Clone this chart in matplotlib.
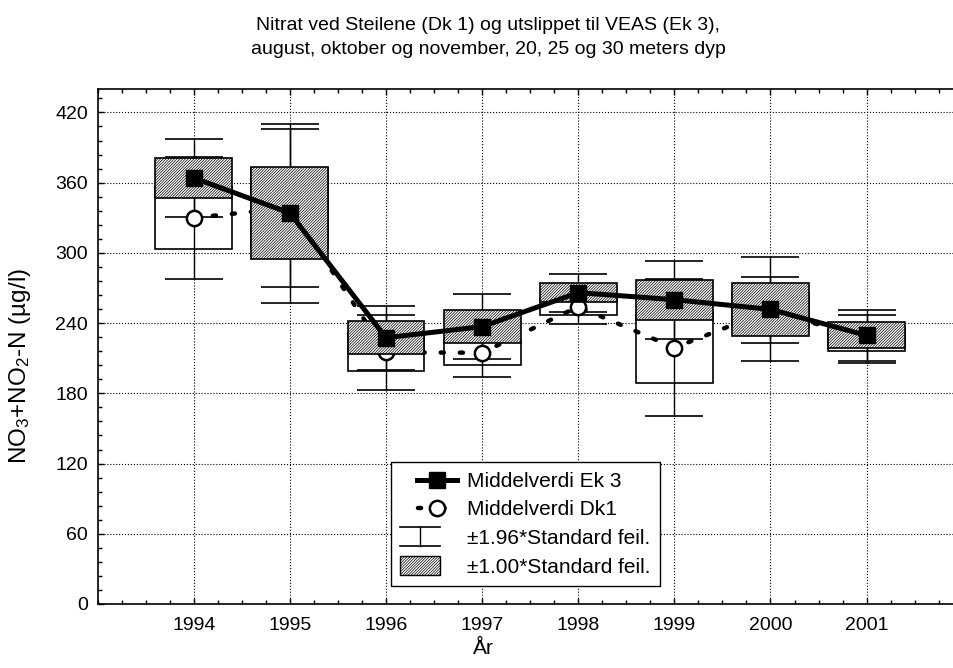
import matplotlib
matplotlib.use('Agg')
import matplotlib.pyplot as plt
from matplotlib.ticker import MultipleLocator
from matplotlib.legend_handler import HandlerBase
from matplotlib.lines import Line2D
from matplotlib.patches import Rectangle

plt.rcParams['font.family'] = ['Liberation Sans', 'DejaVu Sans']
plt.rcParams['mathtext.fontset'] = 'custom'
plt.rcParams['mathtext.rm'] = 'Liberation Sans'
plt.rcParams['mathtext.it'] = 'Liberation Sans'
plt.rcParams['hatch.linewidth'] = 0.5

HATCH = '////////////'

# data (mean and standard error per year)
years = [1994, 1995, 1996, 1997, 1998, 1999, 2000, 2001]
ek3_mean = [364, 334, 227.5, 237, 266, 260, 251.7, 229.5]
ek3_se = [17, 39, 14, 14, 8.3, 17, 22.7, 11.2]
dk1_mean = [330, 338.5, 215, 214.7, 254, 219, 251, 226.5]
dk1_se = [26.5, 34.4, 16.3, 10.7, 7.5, 30, 14.5, 10.5]

fig = plt.figure(figsize=(9.54, 6.68), dpi=100)
ax = fig.add_axes([97.7 / 954, 64 / 668, 865 / 954, 515 / 668])

# Dk1: white boxes (±1 SE)
ax.bar(years, [2 * s for s in dk1_se], bottom=[m - s for m, s in zip(dk1_mean, dk1_se)],
       width=0.8, color='white', edgecolor='black', linewidth=1.2, zorder=2)

# whiskers ±1.96 SE, both series
for mean, se in [(dk1_mean, dk1_se), (ek3_mean, ek3_se)]:
    ax.errorbar(years, mean, yerr=[1.96 * s for s in se], fmt='none', ecolor='black',
                elinewidth=1.0, capsize=21, capthick=1.2, zorder=3)

# Dk1 mean line
ax.plot(years, dk1_mean, color='black', lw=3.2, linestyle=(0, (0.7, 3.6)),
        dash_capstyle='round', zorder=4)
ax.plot(years, dk1_mean, linestyle='none', marker='o', ms=11, mfc='white', mec='black',
        mew=1.8, zorder=4)

# Ek3: hatched boxes (±1 SE)
ax.bar(years, [2 * s for s in ek3_se], bottom=[m - s for m, s in zip(ek3_mean, ek3_se)],
       width=0.8, color='white', edgecolor='black', hatch=HATCH, linewidth=1.2, zorder=5)

# Ek3 mean line
ax.plot(years, ek3_mean, color='black', lw=3.6, marker='s', ms=12, zorder=6)

ax.set_xlim(1993, 2002)
ax.set_ylim(0, 440)
ax.xaxis.set_minor_locator(MultipleLocator(0.25))
ax.yaxis.set_major_locator(MultipleLocator(60))
ax.yaxis.set_minor_locator(MultipleLocator(12))
ax.set_xticks(years)
ax.tick_params(which='both', direction='in', top=True, right=False, labelsize=14)
ax.tick_params(which='major', length=4, width=1)
ax.tick_params(which='minor', length=3, width=1)
ax.tick_params(axis='y', pad=7)
ax.tick_params(axis='x', pad=9)
ax.grid(True, which='major', color='black', linestyle=':', linewidth=0.8)
ax.set_axisbelow(True)
for sp in ax.spines.values():
    sp.set_linewidth(1.2)


# legend symbols
class Draw(HandlerBase):
    def __init__(self, fn):
        super().__init__()
        self.fn = fn

    def create_artists(self, legend, orig, xd, yd, w, h, fs, trans):
        return self.fn(-xd, -yd, w, h, trans)


def sym_ek3(x0, y0, w, h, t):
    y = y0 + h / 2
    return [Line2D([x0 + 0.3 * w, x0 + w], [y, y], color='black', lw=3.6, transform=t),
            Line2D([x0 + 0.65 * w], [y], marker='s', ms=12, color='black', transform=t)]


def sym_dk1(x0, y0, w, h, t):
    y = y0 + h / 2
    return [Line2D([x0 + 0.32 * w, x0 + w], [y, y], color='black', lw=3.2,
                   linestyle=(0, (0.7, 4.6)), dash_capstyle='round', transform=t),
            Line2D([x0 + 0.65 * w], [y], marker='o', ms=11, mfc='white', mec='black',
                   mew=1.8, transform=t)]


def sym_err(x0, y0, w, h, t):
    ya, yb = y0 - 0.15 * h, y0 + 1.15 * h
    xc = x0 + 0.35 * w
    return [Line2D([x0, x0 + 0.7 * w], [ya, ya], color='black', lw=1.2, transform=t),
            Line2D([x0, x0 + 0.7 * w], [yb, yb], color='black', lw=1.2, transform=t),
            Line2D([xc, xc], [ya, yb], color='black', lw=1.0, transform=t)]


def sym_box(x0, y0, w, h, t):
    return [Rectangle((x0, y0 - 0.15 * h), 0.7 * w, 1.3 * h, facecolor='white',
                      edgecolor='black', hatch=HATCH, lw=1.0, transform=t)]


handles = [Line2D([], []), Line2D([], []), Line2D([], []), Line2D([], [])]
labels = ['Middelverdi Ek 3', 'Middelverdi Dk1', '±1.96*Standard feil.', '±1.00*Standard feil.']
hmap = {handles[0]: Draw(sym_ek3), handles[1]: Draw(sym_dk1),
        handles[2]: Draw(sym_err), handles[3]: Draw(sym_box)}
leg = ax.legend(handles, labels, handler_map=hmap, loc='lower left',
                bbox_to_anchor=(0.339, 0.035), borderaxespad=0, fontsize=15,
                fancybox=False, edgecolor='black', framealpha=1, handlelength=2.7,
                handletextpad=0.5, labelspacing=0.46, borderpad=0.45)
leg.get_frame().set_linewidth(1.0)
leg.set_zorder(10)

fig.text(488 / 954, 1 - 29.5 / 668, 'Nitrat ved Steilene (Dk 1) og utslippet til VEAS (Ek 3),',
         ha='center', va='baseline', fontsize=14)
fig.text(488 / 954, 1 - 54.5 / 668, 'august, oktober og november, 20, 25 og 30 meters dyp',
         ha='center', va='baseline', fontsize=14)
fig.text(483 / 954, 1 - 649 / 668, 'År', ha='center', va='center', fontsize=15)
fig.text(20 / 954, 1 - 366 / 668, r'NO$_3$+NO$_2$-N (µg/l)', ha='center', va='center',
         rotation=90, fontsize=17.5)

fig.savefig('out.png', dpi=100)
